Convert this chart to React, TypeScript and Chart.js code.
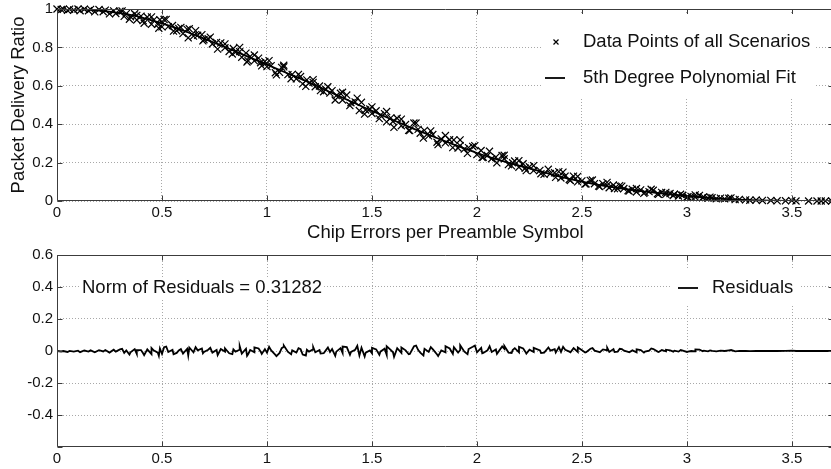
import React, { useEffect, useRef } from 'react';
import { Chart, registerables } from 'chart.js';

Chart.register(...registerables);

// ---------- data ----------
// first batch of measured points
const pointX = [
  0.00, 0.02, 0.03, 0.05, 0.06, 0.08, 0.10, 0.11, 0.13, 0.15, 0.16, 0.18, 0.20, 0.22, 0.23, 0.25, 0.27, 0.28, 0.30, 0.32,
  0.33, 0.35, 0.37, 0.38, 0.40, 0.41, 0.43, 0.45, 0.46, 0.48, 0.49, 0.50, 0.51, 0.53, 0.55, 0.57, 0.58, 0.60, 0.62, 0.63,
  0.65, 0.67, 0.69, 0.70, 0.72, 0.74, 0.76, 0.78, 0.80, 0.82, 0.84, 0.85, 0.87, 0.88, 0.90, 0.91, 0.92, 0.94, 0.96, 0.97,
  0.99, 1.00, 1.02, 1.04, 1.06, 1.07, 1.08, 1.10, 1.12, 1.14, 1.16, 1.17, 1.19, 1.20, 1.22, 1.23, 1.25, 1.27, 1.28, 1.30,
  1.31, 1.33, 1.35, 1.36, 1.38, 1.40, 1.42, 1.44, 1.45, 1.47, 1.49, 1.50, 1.52, 1.54, 1.56, 1.57, 1.59, 1.60, 1.62, 1.64,
  1.66, 1.68, 1.70, 1.72, 1.73, 1.75, 1.77, 1.79, 1.81, 1.83, 1.85, 1.87, 1.89, 1.91, 1.92, 1.94, 1.96, 1.98, 2.00, 2.02,
  2.03, 2.05, 2.07, 2.09, 2.12, 2.13, 2.15, 2.17, 2.18, 2.20, 2.22, 2.23, 2.25, 2.27, 2.30, 2.32, 2.35, 2.37, 2.39, 2.40,
  2.42, 2.44, 2.46, 2.48, 2.50, 2.52, 2.54, 2.56, 2.58, 2.60, 2.62, 2.63, 2.65, 2.67, 2.68, 2.70, 2.72, 2.74, 2.76, 2.78,
  2.80, 2.82, 2.84, 2.86, 2.88, 2.90, 2.92, 2.94, 2.96, 2.98, 3.00, 3.02, 3.04, 3.06, 3.08, 3.10, 3.12, 3.14, 3.16, 3.18,
  3.20, 3.21, 3.23, 3.25, 3.28, 3.30, 3.33, 3.36, 3.40, 3.43, 3.47, 3.50, 3.52, 3.58, 3.62, 3.64, 3.66, 3.69,
];

const pointY = [
  1.000, 0.997, 0.999, 0.993, 0.999, 0.995, 1.000, 0.991, 0.999, 0.991, 0.998, 0.985, 0.997, 0.986, 0.994, 0.975, 0.990, 0.977, 0.988, 0.962,
  0.976, 0.960, 0.975, 0.943, 0.963, 0.940, 0.958, 0.921, 0.942, 0.921, 0.944, 0.907, 0.945, 0.908, 0.914, 0.887, 0.898, 0.872, 0.894, 0.897,
  0.859, 0.863, 0.866, 0.840, 0.845, 0.818, 0.826, 0.823, 0.798, 0.779, 0.794, 0.775, 0.778, 0.749, 0.770, 0.731, 0.753, 0.730, 0.744, 0.720,
  0.727, 0.700, 0.705, 0.668, 0.670, 0.696, 0.699, 0.658, 0.659, 0.636, 0.648, 0.610, 0.631, 0.614, 0.618, 0.595, 0.599, 0.569, 0.582, 0.562,
  0.575, 0.549, 0.561, 0.526, 0.552, 0.512, 0.516, 0.471, 0.514, 0.474, 0.479, 0.456, 0.470, 0.447, 0.455, 0.412, 0.433, 0.414, 0.431, 0.392,
  0.398, 0.367, 0.406, 0.373, 0.353, 0.368, 0.339, 0.346, 0.306, 0.323, 0.303, 0.319, 0.318, 0.276, 0.288, 0.270, 0.278, 0.284, 0.242, 0.263,
  0.228, 0.237, 0.220, 0.228, 0.237, 0.220, 0.190, 0.199, 0.208, 0.176, 0.194, 0.171, 0.178, 0.158, 0.159, 0.139, 0.143, 0.147, 0.153, 0.120,
  0.129, 0.112, 0.129, 0.100, 0.105, 0.089, 0.107, 0.090, 0.078, 0.090, 0.081, 0.069, 0.083, 0.064, 0.080, 0.065, 0.054, 0.061, 0.047, 0.058,
  0.045, 0.049, 0.056, 0.038, 0.045, 0.035, 0.039, 0.035, 0.026, 0.030, 0.020, 0.024, 0.020, 0.029, 0.021, 0.015, 0.017, 0.012, 0.015, 0.011,
  0.014, 0.016, 0.007, 0.008, 0.006, 0.004, 0.005, 0.003, 0.003, 0.001, 0.001, 0.002, 0.000, 0.000, 0.000, 0.000, 0.000, 0.000,
];

const residuals = [
  0.000, -0.003, 0.000, -0.006, 0.001, -0.004, 0.002, -0.007, 0.003, -0.004, 0.004, -0.008, 0.005, -0.003, 0.006, -0.010, 0.008, -0.004, 0.010, -0.012,
  0.004, -0.008, 0.012, -0.018, 0.006, -0.014, 0.010, -0.020, 0.004, -0.010, 0.016, -0.018, 0.024, -0.006, 0.008, -0.012, 0.003, -0.016, 0.014, 0.022,
  -0.008, 0.004, 0.016, -0.006, 0.008, -0.010, 0.006, 0.012, -0.004, -0.014, 0.010, -0.004, 0.008, -0.016, 0.014, -0.020, 0.006, -0.008, 0.016, -0.004,
  0.012, -0.010, 0.004, -0.024, -0.012, 0.018, 0.026, -0.006, 0.004, -0.010, 0.012, -0.022, 0.008, -0.004, 0.010, -0.008, 0.006, -0.014, 0.004, -0.006,
  0.012, -0.004, 0.018, -0.012, 0.024, -0.006, 0.008, -0.028, 0.020, -0.010, 0.004, -0.014, 0.010, -0.004, 0.014, -0.024, 0.006, -0.008, 0.018, -0.012,
  0.004, -0.018, 0.030, 0.006, -0.010, 0.014, -0.006, 0.010, -0.022, 0.004, -0.008, 0.016, 0.024, -0.010, 0.006, -0.004, 0.012, 0.026, -0.008, 0.020,
  -0.012, 0.004, -0.006, 0.010, 0.028, 0.014, -0.010, 0.006, 0.018, -0.008, 0.016, -0.004, 0.008, -0.006, 0.004, -0.010, 0.002, 0.012, 0.024, -0.006,
  0.008, -0.004, 0.018, -0.006, 0.004, -0.008, 0.014, 0.002, -0.006, 0.010, 0.004, -0.006, 0.012, -0.004, 0.014, 0.002, -0.006, 0.004, -0.008, 0.006,
  -0.004, 0.002, 0.012, -0.004, 0.006, -0.002, 0.004, 0.002, -0.004, 0.002, -0.006, 0.000, -0.002, 0.008, 0.002, -0.002, 0.001, -0.002, 0.002, 0.000,
  0.004, 0.006, -0.002, 0.001, 0.000, -0.001, 0.001, 0.000, 0.001, 0.000, 0.001, 0.002, 0.000, 0.000, 0.000, 0.000, 0.000, 0.000,
];

// second batch of measured points (the more scattered ones)
const extraX = [
  0.310, 0.345, 0.380, 0.415, 0.450, 0.485, 0.520, 0.555, 0.590, 0.625, 0.660, 0.695, 0.730, 0.765, 0.800, 0.835, 0.870, 0.905, 0.940, 0.975,
  1.010, 1.045, 1.080, 1.115, 1.150, 1.185, 1.220, 1.255, 1.290, 1.325, 1.360, 1.395, 1.430, 1.465, 1.500, 1.535, 1.570, 1.605, 1.640, 1.675,
  1.710, 1.745, 1.780, 1.815, 1.850, 1.885, 1.920, 1.955, 1.990, 2.025, 2.060, 2.095, 2.130, 2.165, 2.200, 2.235, 2.270, 2.305, 2.340, 2.375,
  2.410, 2.445, 2.480, 2.515, 2.550, 2.585, 2.620, 2.655, 2.690, 2.725, 2.760, 2.795, 2.830, 2.865, 2.900, 2.935, 2.970, 3.005, 3.040, 3.075,
  3.110,
];
const extraY = [
  0.990, 0.947, 0.967, 0.926, 0.959, 0.900, 0.946, 0.885, 0.904, 0.850, 0.887, 0.834, 0.853, 0.791, 0.818, 0.766, 0.800, 0.724, 0.760, 0.704,
  0.731, 0.657, 0.707, 0.637, 0.659, 0.597, 0.632, 0.575, 0.595, 0.526, 0.566, 0.497, 0.536, 0.453, 0.490, 0.429, 0.466, 0.384, 0.426, 0.368,
  0.406, 0.328, 0.365, 0.294, 0.341, 0.278, 0.318, 0.248, 0.288, 0.227, 0.259, 0.199, 0.238, 0.183, 0.210, 0.158, 0.184, 0.142, 0.165, 0.123,
  0.150, 0.107, 0.128, 0.088, 0.109, 0.075, 0.097, 0.065, 0.077, 0.052, 0.065, 0.040, 0.061, 0.035, 0.045, 0.029, 0.035, 0.022, 0.032, 0.017,
  0.020,
];
const extraResiduals = [
  0.014, -0.022, 0.006, -0.026, 0.018, -0.030, 0.028, -0.020, 0.012, -0.028, 0.024, -0.014, 0.020, -0.026, 0.016, -0.020, 0.030, -0.030, 0.022, -0.018,
  0.026, -0.032, 0.034, -0.020, 0.018, -0.028, 0.024, -0.016, 0.022, -0.030, 0.028, -0.024, 0.032, -0.034, 0.020, -0.024, 0.030, -0.036, 0.022, -0.020,
  0.034, -0.028, 0.024, -0.032, 0.030, -0.018, 0.036, -0.020, 0.034, -0.014, 0.030, -0.018, 0.032, -0.012, 0.026, -0.016, 0.020, -0.012, 0.022, -0.010,
  0.026, -0.008, 0.022, -0.010, 0.018, -0.008, 0.020, -0.006, 0.012, -0.008, 0.010, -0.010, 0.016, -0.006, 0.008, -0.004, 0.006, -0.004, 0.010, -0.002,
  0.004,
];

const fitX = [
  0.0, 0.1, 0.2, 0.3, 0.4, 0.5, 0.6, 0.7, 0.8, 0.9, 1.0, 1.1, 1.2, 1.3, 1.4, 1.5, 1.6, 1.7, 1.8, 1.9,
  2.0, 2.1, 2.2, 2.3, 2.4, 2.5, 2.6, 2.7, 2.8, 2.9, 3.0, 3.1, 3.2, 3.3, 3.4, 3.5, 3.6, 3.69,
];
const fitY = [
  1.000, 0.998, 0.992, 0.978, 0.957, 0.925, 0.888, 0.846, 0.802, 0.756, 0.710, 0.664, 0.618, 0.568, 0.518, 0.470, 0.422, 0.376, 0.332, 0.290,
  0.250, 0.215, 0.184, 0.155, 0.126, 0.101, 0.080, 0.063, 0.049, 0.037, 0.026, 0.017, 0.010, 0.005, 0.002, 0.000, 0.000, 0.000,
];

const xTicks = [0, 0.5, 1, 1.5, 2, 2.5, 3, 3.5];
const topYTicks = [0, 0.2, 0.4, 0.6, 0.8, 1];
const bottomYTicks = [-0.4, -0.2, 0, 0.2, 0.4, 0.6];

const X_MAX = 3.7;
const TOP_Y = [0, 1];
const BOTTOM_Y = [-0.6, 0.6];

const normText = 'Norm of Residuals = 0.31282';
const xTitle = 'Chip Errors per Preamble Symbol';
const yTitle = 'Packet Delivery Ratio';
const scatterLabel = 'Data Points of all Scenarios';
const fitLabel = '5th Degree Polynomial Fit';
const residualLabel = 'Residuals';

// ---------- styles ----------
const FAMILY = '"Liberation Sans", Arial, Helvetica, sans-serif';
const TICK_FONT = { family: FAMILY, size: 15 };
const TEXT_PX = 18.5;
const TEXT_COLOR = '#111';
const GRID_COLOR = '#a8a8a8';
const FRAME_COLOR = '#3c3c3c';

function framePlugin(xt: number[], yt: number[]) {
  return {
    id: 'frame',
    afterDatasetsDraw(chart: any) {
      const { ctx, chartArea: a, scales } = chart;
      ctx.save();
      ctx.setLineDash([]);
      ctx.strokeStyle = FRAME_COLOR;
      ctx.lineWidth = 1;
      const L = Math.round(a.left) + 0.5;
      const R = Math.round(a.right) - 0.5;
      const T = Math.round(a.top) + 0.5;
      const B = Math.round(a.bottom) - 0.5;
      ctx.beginPath();
      ctx.rect(L, T, R - L, B - T);
      ctx.stroke();
      const tl = 5;
      ctx.beginPath();
      xt.forEach((v) => {
        const p = Math.round(scales.x.getPixelForValue(v)) + 0.5;
        ctx.moveTo(p, B);
        ctx.lineTo(p, B - tl);
        ctx.moveTo(p, T);
        ctx.lineTo(p, T + tl);
      });
      yt.forEach((v) => {
        const p = Math.round(scales.y.getPixelForValue(v)) + 0.5;
        ctx.moveTo(L, p);
        ctx.lineTo(L + tl, p);
        ctx.moveTo(R, p);
        ctx.lineTo(R - tl, p);
      });
      ctx.stroke();
      ctx.restore();
    },
  };
}

function textFont() {
  return `${TEXT_PX}px ${FAMILY}`;
}

const topLegendPlugin = {
  id: 'topLegend',
  afterDraw(chart: any) {
    const { ctx } = chart;
    ctx.save();
    ctx.setLineDash([]);
    ctx.fillStyle = '#fff';
    ctx.fillRect(542, 14, 272, 83);
    ctx.strokeStyle = '#000';
    ctx.lineWidth = 1.2;
    ctx.beginPath();
    ctx.moveTo(553.5, 39.5);
    ctx.lineTo(558.5, 44.5);
    ctx.moveTo(558.5, 39.5);
    ctx.lineTo(553.5, 44.5);
    ctx.stroke();
    ctx.lineWidth = 1.8;
    ctx.beginPath();
    ctx.moveTo(545, 78);
    ctx.lineTo(565, 78);
    ctx.stroke();
    ctx.fillStyle = TEXT_COLOR;
    ctx.font = textFont();
    ctx.textBaseline = 'middle';
    ctx.textAlign = 'left';
    ctx.fillText(scatterLabel, 583, 42);
    ctx.fillText(fitLabel, 583, 78);
    ctx.restore();
  },
};

const bottomLegendPlugin = {
  id: 'bottomLegend',
  afterDraw(chart: any) {
    const { ctx } = chart;
    ctx.save();
    ctx.setLineDash([]);
    ctx.font = textFont();
    ctx.textBaseline = 'middle';
    ctx.textAlign = 'left';
    ctx.fillStyle = '#fff';
    ctx.fillRect(670, 24, 130, 36);
    ctx.strokeStyle = '#000';
    ctx.lineWidth = 1.8;
    ctx.beginPath();
    ctx.moveTo(678, 42);
    ctx.lineTo(698, 42);
    ctx.stroke();
    ctx.fillStyle = TEXT_COLOR;
    ctx.fillText(residualLabel, 712, 42);
    const w = ctx.measureText(normText).width;
    ctx.fillStyle = '#fff';
    ctx.fillRect(80, 31, w + 4, 22);
    ctx.fillStyle = TEXT_COLOR;
    ctx.fillText(normText, 82, 42);
    ctx.restore();
  },
};

function xScale(height: number, withTitle: boolean) {
  return {
    type: 'linear',
    min: 0,
    max: X_MAX,
    afterBuildTicks: (s: any) => {
      s.ticks = xTicks.map((v) => ({ value: v }));
    },
    afterFit: (s: any) => {
      s.height = height;
      s.paddingLeft = 0;
      s.paddingRight = 0;
    },
    ticks: {
      font: TICK_FONT,
      color: TEXT_COLOR,
      padding: 3,
      maxRotation: 0,
      autoSkip: false,
      callback: (v: any) => String(v),
    },
    grid: { color: GRID_COLOR, lineWidth: 1, drawTicks: false },
    border: { display: false, dash: [1, 2] },
    title: {
      display: withTitle,
      text: xTitle,
      color: TEXT_COLOR,
      font: { family: FAMILY, size: TEXT_PX },
      padding: { top: 0, bottom: 2 },
    },
  };
}

function yScale(range: number[], ticks: number[], withTitle: boolean) {
  return {
    type: 'linear',
    min: range[0],
    max: range[1],
    afterBuildTicks: (s: any) => {
      s.ticks = ticks.map((v) => ({ value: v }));
    },
    afterFit: (s: any) => {
      s.width = 57;
      s.paddingTop = 0;
      s.paddingBottom = 0;
    },
    ticks: {
      font: TICK_FONT,
      color: TEXT_COLOR,
      padding: 4,
      autoSkip: false,
      callback: (v: any) => String(v),
    },
    grid: { color: GRID_COLOR, lineWidth: 1, drawTicks: false },
    border: { display: false, dash: [1, 2] },
    title: {
      display: withTitle,
      text: yTitle,
      color: TEXT_COLOR,
      font: { family: FAMILY, size: TEXT_PX },
      padding: { top: 8, bottom: 0 },
    },
  };
}

export default function App() {
  const topRef = useRef<HTMLCanvasElement>(null);
  const botRef = useRef<HTMLCanvasElement>(null);

  useEffect(() => {
    document.body.style.margin = '0';
    const scatterData = [
      ...pointX.map((x, i) => ({ x, y: pointY[i] })),
      ...extraX.map((x, i) => ({ x, y: extraY[i] })),
    ];
    const fitData = fitX.map((x, i) => ({ x, y: fitY[i] }));
    const residualData = [
      ...pointX.map((x, i) => ({ x, y: residuals[i] })),
      ...extraX.map((x, i) => ({ x, y: extraResiduals[i] })),
    ].sort((a, b) => a.x - b.x);

    const top = new Chart(topRef.current as HTMLCanvasElement, {
      type: 'scatter',
      data: {
        datasets: [
          {
            label: fitLabel,
            data: fitData,
            showLine: true,
            pointRadius: 0,
            borderColor: '#000',
            borderWidth: 1.8,
            cubicInterpolationMode: 'monotone',
            order: 0,
          } as any,
          {
            label: scatterLabel,
            data: scatterData,
            showLine: false,
            pointStyle: 'crossRot',
            pointRadius: 5,
            pointBorderWidth: 1.2,
            borderColor: '#000',
            backgroundColor: '#000',
            clip: 6,
            order: 1,
          } as any,
        ],
      },
      options: {
        animation: false,
        responsive: false,
        devicePixelRatio: 1,
        layout: { padding: { top: 9, right: 6, left: 0, bottom: 0 } },
        plugins: { legend: { display: false }, tooltip: { enabled: false } },
        scales: {
          x: xScale(45, true) as any,
          y: yScale(TOP_Y, topYTicks, true) as any,
        },
      },
      plugins: [framePlugin(xTicks, topYTicks), topLegendPlugin],
    });

    const bottom = new Chart(botRef.current as HTMLCanvasElement, {
      type: 'scatter',
      data: {
        datasets: [
          {
            label: residualLabel,
            data: residualData,
            showLine: true,
            pointRadius: 0,
            borderColor: '#000',
            borderWidth: 1.8,
          } as any,
        ],
      },
      options: {
        animation: false,
        responsive: false,
        devicePixelRatio: 1,
        layout: { padding: { top: 9, right: 6, left: 0, bottom: 0 } },
        plugins: { legend: { display: false }, tooltip: { enabled: false } },
        scales: {
          x: xScale(22, false) as any,
          y: yScale(BOTTOM_Y, bottomYTicks, false) as any,
        },
      },
      plugins: [framePlugin(xTicks, [-0.6, ...bottomYTicks]), bottomLegendPlugin],
    });

    return () => {
      top.destroy();
      bottom.destroy();
    };
  }, []);

  return (
    <div
      style={{
        position: 'absolute',
        left: 0,
        top: 0,
        width: 831,
        height: 469,
        overflow: 'hidden',
        background: '#fff',
      }}
    >
      <canvas ref={topRef} width={840} height={246} style={{ position: 'absolute', left: 0, top: 0 }} />
      <canvas ref={botRef} width={840} height={223} style={{ position: 'absolute', left: 0, top: 246 }} />
    </div>
  );
}
